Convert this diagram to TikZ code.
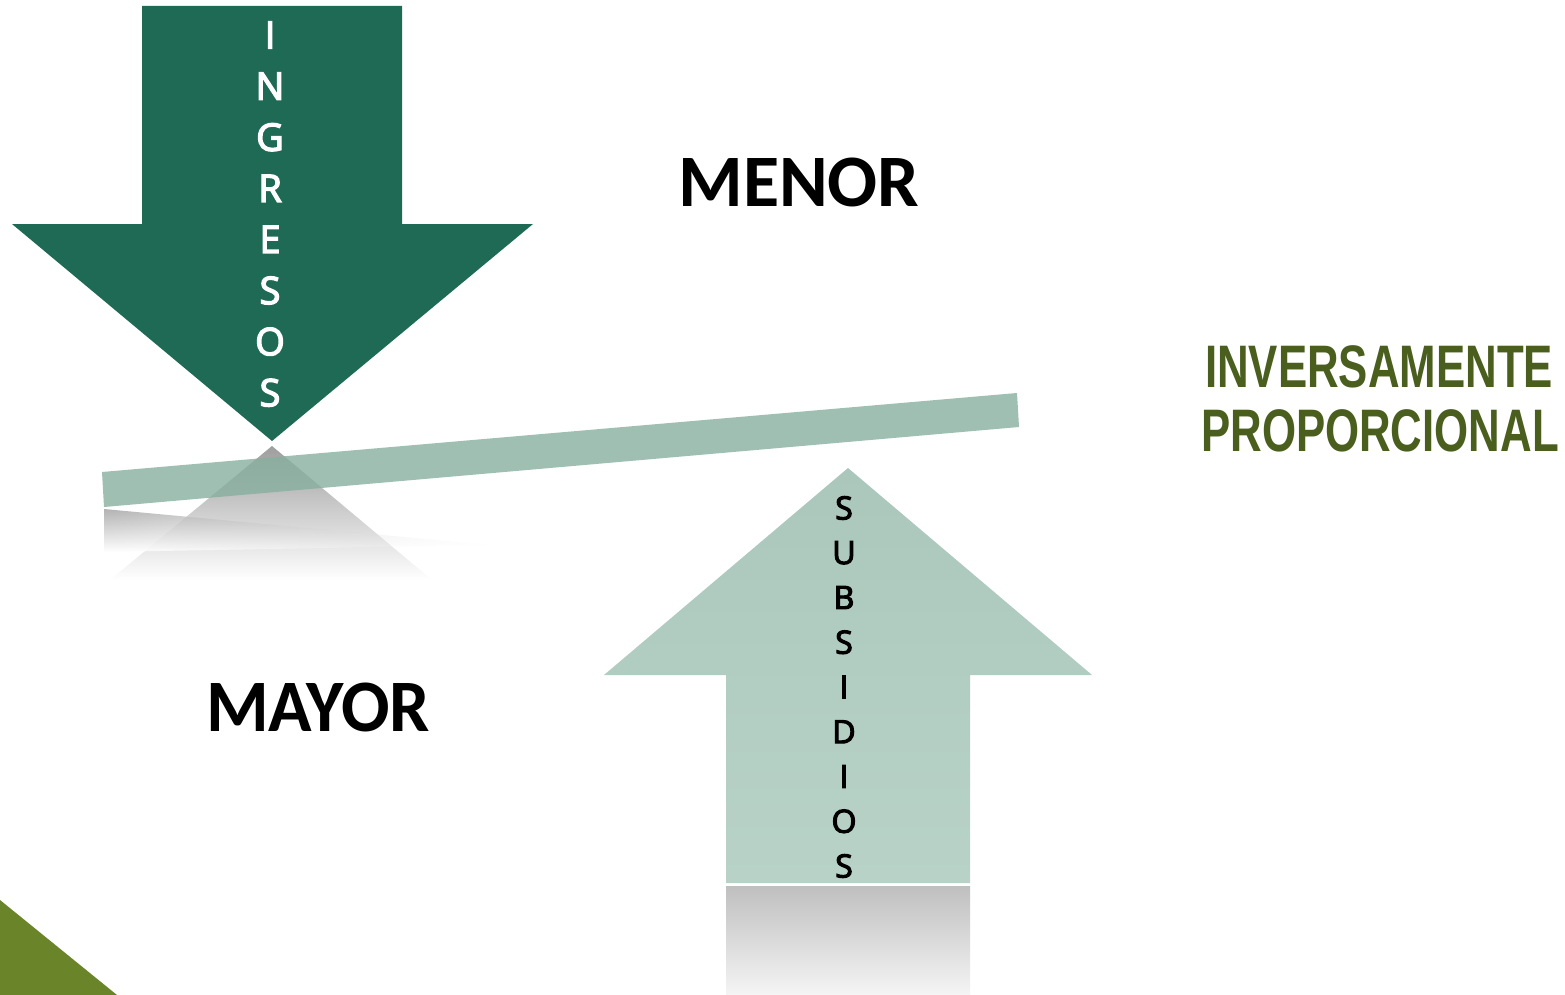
\documentclass[tikz,border=0pt]{standalone}
\usepackage{fontspec}
\setmainfont{Open Sans}
\newfontfamily\semifont[FakeBold=3.5]{Open Sans}
\newfontfamily\calfont{Carlito}
\newfontfamily\arfont{Liberation Sans}
\usetikzlibrary{fadings}
\definecolor{ingr}{HTML}{1E6A55}
\definecolor{beam}{HTML}{87AF9F}
\definecolor{subs}{HTML}{ABC7BB}
\definecolor{subsL}{HTML}{B8D2C7}
\definecolor{olivetri}{HTML}{6A8529}
\definecolor{olivetxt}{HTML}{4A5E1E}
\tikzset{
  ingl/.style={text=white, font=\semifont\fontsize{38}{38}\selectfont, inner sep=0pt},
  subl/.style={text=black, font=\semifont\fontsize{32}{32}\selectfont, inner sep=0pt},
  bigw/.style={text=black, font=\calfont\bfseries\fontsize{74}{74}\selectfont, inner sep=0pt},
  propw/.style={text=olivetxt, font=\arfont\bfseries\fontsize{60}{60}\selectfont, inner sep=0pt}
}
\begin{document}
\begin{tikzpicture}[x=1pt,y=-1pt]
\useasboundingbox (0,0) rectangle (1565,995);
\fill[white] (0,0) rectangle (1565,995);
% olive corner triangle
\fill[olivetri] (0,900) -- (117,995) -- (0,995) -- cycle;
% ingresos arrow (down)
\fill[ingr] (142,6) -- (402,6) -- (402,224) -- (533,224) -- (272,441) -- (12,224) -- (142,224) -- cycle;
% reflection of the arrow tip
\shade[top color=black!38, bottom color=white] (272,446) -- (432,580) -- (110,580) -- cycle;
% reflection of the beam
\shade[top color=black!30, bottom color=white, path fading=east] (104,509) -- (490,545) -- (104,552) -- cycle;
% beam
\fill[beam, opacity=0.8] (102,472) -- (1017,393) -- (1019,427) -- (104,507) -- cycle;
% subsidios arrow (up)
\shade[top color=subs, bottom color=subsL] (848,468) -- (1092,675) -- (970,675) -- (970,883) -- (726,883) -- (726,675) -- (604,675) -- cycle;
% reflection of subsidios shaft
\shade[top color=black!25, bottom color=black!4] (726,886) rectangle (970,995);
% letters
\foreach \l [count=\i from 0] in {I,N,G,R,E,S,O,S}
  \node[ingl] (ing\i) at (270,{35+51.1*\i}) {\l};
\foreach \l [count=\i from 0] in {S,U,B,S,I,D,I,O,S}
  \node[subl] (sub\i) at (844,{508+44.75*\i}) {\l};
% words
\node[bigw] (menor) at (799,182) {MENOR};
\node[bigw] (mayor) at (318,707) {\scalebox{0.97}[1]{MAYOR}};
\node[propw] (inv) at (1379,367) {\scalebox{0.73}[1]{INVERSAMENTE}};
\node[propw] (prop) at (1380,431) {\scalebox{0.73}[1]{PROPORCIONAL}};
\end{tikzpicture}
\end{document}
